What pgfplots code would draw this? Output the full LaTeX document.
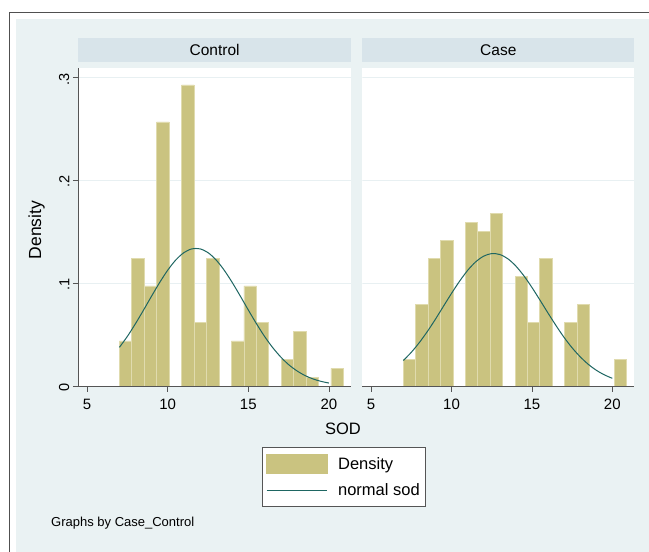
\documentclass[border=0pt]{standalone}
\usepackage{fontspec}
\setmainfont{Liberation Sans}
\usepackage{pgfplots}
\pgfplotsset{compat=1.18}
\definecolor{bgc}{RGB}{234,242,243}
\definecolor{stripc}{RGB}{216,228,234}
\definecolor{gridc}{RGB}{232,240,242}
\definecolor{barc}{RGB}{202,195,128}
\definecolor{baredge}{RGB}{224,219,174}
\definecolor{curvec}{RGB}{30,102,98}
\definecolor{axc}{RGB}{85,85,85}
\definecolor{framec}{RGB}{80,80,80}
\pgfplotsset{
  panel/.style={
    scale only axis, width=272.7pt, height=317.7pt,
    xmin=4.45, xmax=21.37, ymin=0, ymax=0.309,
    axis on top,
    axis x line*=bottom,
    xtick={5,10,15,20}, xticklabels={5,10,15,20},
    tick align=outside, major tick length=5.5pt,
    x tick label style={font=\fontsize{15}{17}\selectfont, yshift=-4pt},
    axis line style={draw=axc, line width=0.8pt, -},
    tick style={draw=axc, line width=0.8pt},
    axis background/.style={fill=white},
    title style={at={(0.5,1)}, anchor=south, yshift=0pt, fill=stripc,
      minimum width=272.7pt, minimum height=24.3pt, inner sep=0pt,
      font=\fontsize{15.5}{17}\selectfont, text=black},
  },
  gridl/.style={gridc, line width=1.2pt, forget plot},
  bars/.style={ybar interval, fill=barc, draw=baredge, line width=0.7pt},
  curve/.style={curvec, line width=1pt, smooth, no marks},
}
\begin{document}
\begin{tikzpicture}[x=1pt,y=1pt]
\useasboundingbox (0,0) rectangle (649,-552);
\fill[white] (0,0) rectangle (649,-552);
\fill[bgc] (15.7,-19) rectangle (649,-552);
\draw[framec, line width=1.3pt] (9.5,-552) -- (9.5,-12.5) -- (649,-12.5);

\begin{axis}[panel, at={(78.3pt,-386pt)}, anchor=south west,
  title={Control},
  axis y line*=left,
  ytick={0,0.1,0.2,0.3}, yticklabels={0,.1,.2,.3},
  y tick label style={rotate=90, anchor=south, font=\fontsize{14.5}{16}\selectfont, xshift=-1.5pt},
  ylabel={Density},
  ylabel style={at={(axis description cs:-0.1525,0.491)}, anchor=center, rotate=0, font=\fontsize{17.5}{19}\selectfont},
  xlabel={SOD},
  xlabel style={at={(axis description cs:0.9707,-0.1353)}, anchor=center, font=\fontsize{16.5}{18}\selectfont},
  legend style={at={(axis description cs:0.6725,-0.191)}, anchor=north west,
    draw=axc, fill=white, line width=0.8pt,
    font=\fontsize{16.5}{18}\selectfont, row sep=8pt, inner xsep=4pt, inner ysep=7pt},
  legend cell align=left,
]
\addplot[gridl] coordinates {(4.45,0.1) (21.37,0.1)};
\addplot[gridl] coordinates {(4.45,0.2) (21.37,0.2)};
\addplot[gridl] coordinates {(4.45,0.3) (21.37,0.3)};
\addplot[bars, legend image code/.code={\fill[barc] (0pt,-9.6pt) rectangle (60.6pt,9.6pt); \path (69pt,0pt);}] coordinates {
(7.000,0.0438) (7.772,0.1244) (8.544,0.0974) (9.317,0.2568) (10.089,0)
(10.861,0.2929) (11.633,0.0617) (12.406,0.1244) (13.178,0) (13.950,0.0438)
(14.722,0.0974) (15.494,0.0617) (16.267,0) (17.039,0.0260) (17.811,0.0529)
(18.583,0.0084) (19.356,0) (20.128,0.0172) (20.900,0.0172)};
\addlegendentry{Density}
\addplot[curve, legend image code/.code={\draw[curvec, line width=1pt] (0pt,0pt) -- (60.6pt,0pt); \path (69pt,0pt);}] coordinates {
(7,0.0376) (7.5,0.0484) (8,0.0607) (8.5,0.0739) (9,0.0875) (9.5,0.1007)
(10,0.1127) (10.5,0.1226) (11,0.1297) (11.5,0.1334) (12,0.1334) (12.5,0.1297)
(13,0.1226) (13.5,0.1127) (14,0.1007) (14.5,0.0875) (15,0.0739) (15.5,0.0607)
(16,0.0484) (16.5,0.0376) (17,0.0284) (17.5,0.0208) (18,0.0149) (18.5,0.0103)
(19,0.00695) (19.5,0.00455) (20,0.0029)};
\addlegendentry{normal sod}
\end{axis}

\begin{axis}[panel, at={(362.3pt,-386pt)}, anchor=south west,
  width=272pt,
  title={Case}, title style={minimum width=272pt},
  axis y line=none,
]
\addplot[gridl] coordinates {(4.45,0.1) (21.37,0.1)};
\addplot[gridl] coordinates {(4.45,0.2) (21.37,0.2)};
\addplot[gridl] coordinates {(4.45,0.3) (21.37,0.3)};
\addplot[bars] coordinates {
(7.000,0.0260) (7.772,0.0795) (8.544,0.1244) (9.317,0.1419) (10.089,0)
(10.861,0.1594) (11.633,0.1503) (12.406,0.1682) (13.178,0) (13.950,0.1062)
(14.722,0.0617) (15.494,0.1244) (16.267,0) (17.039,0.0617) (17.811,0.0795)
(18.583,0) (19.356,0) (20.128,0.0260) (20.900,0.0260)};
\addplot[curve] coordinates {
(7,0.0248) (7.5,0.0328) (8,0.0423) (8.5,0.0531) (9,0.0650) (9.5,0.0776)
(10,0.0901) (10.5,0.1019) (11,0.1124) (11.5,0.1207) (12,0.1263) (12.5,0.1288)
(13,0.1279) (13.5,0.1238) (14,0.1167) (14.5,0.1072) (15,0.0959) (15.5,0.0836)
(16,0.0710) (16.5,0.0588) (17,0.0473) (17.5,0.0372) (18,0.0285) (18.5,0.0212)
(19,0.0154) (19.5,0.0109) (20,0.0075)};
\end{axis}

\node[anchor=west, font=\fontsize{13}{15}\selectfont, inner sep=0pt] at (51,-523) {Graphs by Case\_Control};
\end{tikzpicture}
\end{document}
